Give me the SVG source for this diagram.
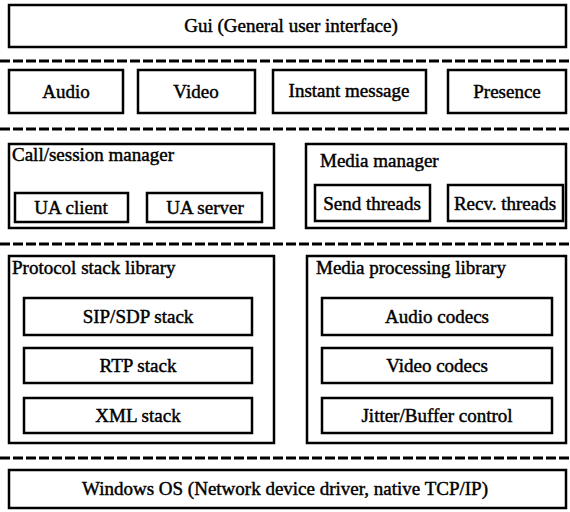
<svg xmlns="http://www.w3.org/2000/svg" width="570" height="512" viewBox="0 0 570 512">
  <style>
    .box { fill: #fff; stroke: #000; stroke-width: 2.5; }
    .inner { fill: #fff; stroke: #000; stroke-width: 2.5; }
    .sep { stroke: #000; stroke-width: 3; stroke-dasharray: 10 3; fill: none; }
    text { font-family: 'Liberation Serif', 'Times New Roman', Times, 'DejaVu Serif', serif; font-size: 19px; fill: #000; stroke: #000; stroke-width: 0.45; }
    .c { text-anchor: middle; }
  </style>
  <rect width="570" height="512" fill="#fff"/>

  <!-- layer separators -->
  <g id="separators">
    <line class="sep" x1="0" y1="61" x2="570" y2="61"/>
    <line class="sep" x1="0" y1="129" x2="570" y2="129"/>
    <line class="sep" x1="0" y1="244" x2="570" y2="244"/>
    <line class="sep" x1="0" y1="458" x2="570" y2="458"/>
  </g>

  <!-- top layer -->
  <g id="gui">
    <rect class="box" x="9" y="5" width="557" height="42"/>
    <text class="c" x="291" y="32">Gui (General user interface)</text>
  </g>

  <!-- application layer -->
  <g id="audio">
    <rect class="inner" x="9" y="70" width="114" height="43"/>
    <text class="c" x="66" y="98">Audio</text>
  </g>
  <g id="video">
    <rect class="inner" x="138" y="70" width="117" height="43"/>
    <text class="c" x="196" y="98">Video</text>
  </g>
  <g id="instant-message">
    <rect class="inner" x="273" y="70" width="153" height="43"/>
    <text class="c" x="349" y="97">Instant message</text>
  </g>
  <g id="presence">
    <rect class="inner" x="448" y="70" width="118" height="43"/>
    <text class="c" x="507" y="98">Presence</text>
  </g>

  <!-- manager layer -->
  <g id="call-session-manager">
    <rect class="box" x="9" y="144" width="265" height="84"/>
    <text x="12" y="161">Call/session manager</text>
  </g>
  <g id="ua-client">
    <rect class="inner" x="15" y="193" width="113" height="29"/>
    <text class="c" x="71" y="214">UA client</text>
  </g>
  <g id="ua-server">
    <rect class="inner" x="147" y="193" width="115" height="29"/>
    <text class="c" x="205" y="214">UA server</text>
  </g>

  <g id="media-manager">
    <rect class="box" x="306" y="144" width="260" height="84"/>
    <text x="320" y="167">Media manager</text>
  </g>
  <g id="send-threads">
    <rect class="inner" x="315" y="185" width="115" height="36"/>
    <text class="c" x="372" y="210">Send threads</text>
  </g>
  <g id="recv-threads">
    <rect class="inner" x="448" y="185" width="115" height="36"/>
    <text class="c" x="505" y="210">Recv. threads</text>
  </g>

  <!-- library layer -->
  <g id="protocol-stack-library">
    <rect class="box" x="9" y="256" width="265" height="187"/>
    <text x="12" y="274">Protocol stack library</text>
  </g>
  <g id="sip-sdp-stack">
    <rect class="inner" x="24" y="298" width="228" height="37"/>
    <text class="c" x="138" y="323">SIP/SDP stack</text>
  </g>
  <g id="rtp-stack">
    <rect class="inner" x="24" y="348" width="228" height="35"/>
    <text class="c" x="138" y="372">RTP stack</text>
  </g>
  <g id="xml-stack">
    <rect class="inner" x="24" y="398" width="228" height="35"/>
    <text class="c" x="138" y="422">XML stack</text>
  </g>

  <g id="media-processing-library">
    <rect class="box" x="307" y="256" width="259" height="187"/>
    <text x="316" y="274">Media processing library</text>
  </g>
  <g id="audio-codecs">
    <rect class="inner" x="322" y="298" width="230" height="37"/>
    <text class="c" x="437" y="323">Audio codecs</text>
  </g>
  <g id="video-codecs">
    <rect class="inner" x="322" y="348" width="230" height="35"/>
    <text class="c" x="437" y="372">Video codecs</text>
  </g>
  <g id="jitter-buffer-control">
    <rect class="inner" x="322" y="398" width="230" height="35"/>
    <text class="c" x="437" y="422">Jitter/Buffer control</text>
  </g>

  <!-- operating system layer -->
  <g id="windows-os">
    <rect class="box" x="9" y="470" width="557" height="38"/>
    <text class="c" x="285" y="495">Windows OS (Network device driver, native TCP/IP)</text>
  </g>
</svg>
